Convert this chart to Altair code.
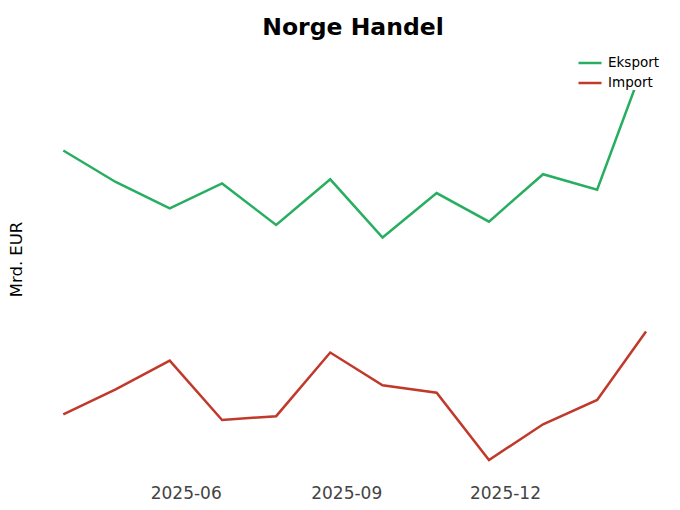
import altair as alt
import pandas as pd

# Monthly data (Mrd. EUR)
months = ["2025-04-01", "2025-05-01", "2025-06-01", "2025-07-01", "2025-08-01", "2025-09-01",
          "2025-10-01", "2025-11-01", "2025-12-01", "2026-01-01", "2026-02-01", "2026-03-01"]
eksport = [12.29, 11.24, 10.36, 11.19, 9.81, 11.33, 9.39, 10.87, 9.92, 11.50, 10.98, 15.37]
importv = [3.50, 4.33, 5.29, 3.31, 3.44, 5.56, 4.47, 4.22, 1.98, 3.17, 3.98, 6.26]
series = ["Eksport", "Import"]
colors = ["#27ae60", "#c0392b"]
tick_months = [(2025, 6), (2025, 9), (2025, 12)]

rows = []
for m, e, i in zip(months, eksport, importv):
    rows.append({"dato": m + "T00:00:00", "serie": "Eksport", "verdi": e})
    rows.append({"dato": m + "T00:00:00", "serie": "Import", "verdi": i})
df = pd.DataFrame(rows)

# x domain: data range with a margin on each side (in days)
first = pd.Timestamp(months[0]) - pd.Timedelta(days=16.8)
last = pd.Timestamp(months[-1]) + pd.Timedelta(days=14.9)
x_domain = [first.strftime("%Y-%m-%dT%H:%M:%S"), last.strftime("%Y-%m-%dT%H:%M:%S")]

tick_values = [alt.DateTime(year=y, month=mo, date=1) for y, mo in tick_months]

chart = alt.Chart(df).mark_line(strokeWidth=2.5).encode(
    x=alt.X("dato:T",
            scale=alt.Scale(domain=x_domain),
            axis=alt.Axis(values=tick_values, format="%Y-%m", title=None, grid=False,
                          domain=False, ticks=False, labelFontSize=17, labelColor="#444444",
                          labelFont="DejaVu Sans", labelPadding=5, labelOffset=16)),
    y=alt.Y("verdi:Q",
            scale=alt.Scale(zero=False, nice=False, padding=20),
            axis=alt.Axis(title="Mrd. EUR", labels=False, ticks=False, domain=False, grid=False,
                          titleFontSize=16.5, titleFontWeight="normal", titleColor="black",
                          titleFont="DejaVu Sans", titlePadding=10)),
    color=alt.Color("serie:N",
                    scale=alt.Scale(domain=series, range=colors),
                    legend=alt.Legend(title=None, orient="none", legendX=543, legendY=12,
                                      symbolType="stroke", symbolSize=529, symbolStrokeWidth=2.5,
                                      labelFontSize=13.5, labelFont="DejaVu Sans",
                                      labelColor="black", labelOffset=5, fillColor="white",
                                      padding=0, rowPadding=-1)),
).properties(
    width=638,
    height=442,
    title=alt.TitleParams("Norge Handel", fontSize=23.5, fontWeight="bold", font="DejaVu Sans",
                          anchor="middle", offset=4, baseline="alphabetic", color="black", dy=24),
    autosize=alt.AutoSizeParams(type="none"),
    padding={"left": 26, "top": 30, "right": 0, "bottom": 22},
).configure_view(stroke=None)

chart.save("out.html", embed_options={"renderer": "svg", "actions": False})
